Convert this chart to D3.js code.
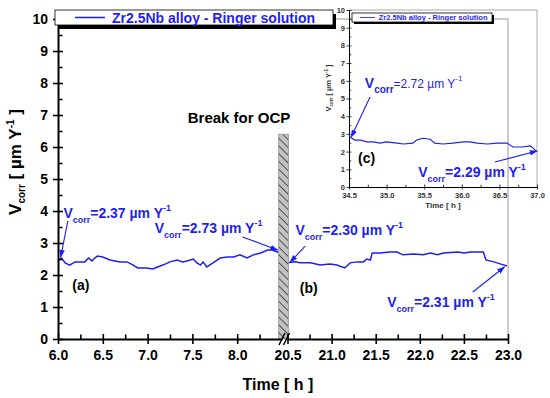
<!DOCTYPE html>
<html>
<head>
<meta charset="utf-8">
<script src="https://cdn.jsdelivr.net/npm/d3@7"></script>
<style>
body { margin: 0; background: #fff; }
text { font-family: "Liberation Sans", Arial, sans-serif; }
</style>
</head>
<body>
<svg id="chart"></svg>
<script>
const width = 550, height = 398
const blue = "#1f1ff2"

// (a) before the break for OCP
const timeA = [6.0, 6.04, 6.08, 6.13, 6.19, 6.30, 6.34, 6.38, 6.41, 6.44, 6.50, 6.58, 6.69, 6.77, 6.84, 6.89,
    6.99, 7.06, 7.11, 7.17, 7.25, 7.33, 7.39, 7.44, 7.51, 7.55, 7.59, 7.62, 7.66, 7.73, 7.81, 7.89, 7.96,
    8.03, 8.11, 8.18, 8.26, 8.34, 8.39, 8.45, 8.48]
const vcorrA = [2.45, 2.53, 2.38, 2.31, 2.41, 2.41, 2.53, 2.44, 2.53, 2.59, 2.56, 2.47, 2.41, 2.41, 2.31, 2.22,
    2.22, 2.19, 2.25, 2.31, 2.41, 2.47, 2.41, 2.44, 2.5, 2.38, 2.31, 2.41, 2.25, 2.38, 2.53, 2.56, 2.56,
    2.63, 2.53, 2.63, 2.69, 2.78, 2.78, 2.72, 2.63]

// (b) after the break
const timeB = [20.5, 20.59, 20.64, 20.76, 20.87, 20.98, 21.06, 21.15, 21.21, 21.29, 21.36, 21.4, 21.44, 21.46,
    21.55, 21.66, 21.74, 21.81, 21.93, 22.04, 22.12, 22.2, 22.27, 22.43, 22.5, 22.58, 22.72, 22.75, 22.84,
    22.92, 22.99]
const vcorrB = [2.38, 2.41, 2.38, 2.38, 2.31, 2.34, 2.31, 2.22, 2.38, 2.41, 2.41, 2.5, 2.47, 2.69,
    2.69, 2.72, 2.72, 2.63, 2.66, 2.63, 2.69, 2.63, 2.69, 2.72, 2.69, 2.72, 2.72, 2.47, 2.41,
    2.34, 2.28]

// (c) inset
const timeC = [34.51, 34.58, 34.65, 34.74, 34.82, 34.91, 35.0, 35.14, 35.22, 35.35, 35.4, 35.48, 35.58, 35.64,
    35.75, 35.88, 36.02, 36.11, 36.2, 36.34, 36.47, 36.6, 36.68, 36.81, 36.91, 36.95, 37.0]
const vcorrC = [2.82, 2.65, 2.65, 2.55, 2.55, 2.48, 2.55, 2.48, 2.43, 2.48, 2.65, 2.75, 2.7, 2.48,
    2.43, 2.48, 2.55, 2.55, 2.48, 2.43, 2.48, 2.48, 2.26, 2.26, 2.32, 2.2, 1.98]

const ticksA = [6.0, 6.5, 7.0, 7.5, 8.0]
const minorA = [6.25, 6.75, 7.25, 7.75, 8.25]
const ticksB = [20.5, 21.0, 21.5, 22.0, 22.5, 23.0]
const minorB = [20.75, 21.25, 21.75, 22.25, 22.75]
const ticksC = [34.5, 35.0, 35.5, 36.0, 36.5, 37.0]
const minorC = [34.75, 35.25, 35.75, 36.25, 36.75]
const ticksY = [0, 1, 2, 3, 4, 5, 6, 7, 8, 9, 10]
const minorY = [0.5, 1.5, 2.5, 3.5, 4.5, 5.5, 6.5, 7.5, 8.5, 9.5]

const legendText = "Zr2.5Nb alloy - Ringer solution"

// annotations: text anchor, arrow tail, arrow tip (data units of each panel)
const notes = [
    { panel: "a", value: "2.37", tx: 6.06, ty: 3.78, fx: 6.11, fy: 3.69, px: 6.03, py: 2.56 },
    { panel: "a", value: "2.73", tx: 7.08, ty: 3.31, fx: 8.06, fy: 3.19, px: 8.45, py: 2.78 },
    { panel: "b", value: "2.30", tx: 20.59, ty: 3.25, fx: 20.7, fy: 2.9, px: 20.53, py: 2.4 },
    { panel: "b", value: "2.31", tx: 21.63, ty: 1.0, fx: 22.6, fy: 1.47, px: 22.96, py: 2.25 },
    { panel: "c", value: "2.72", tx: 34.71, ty: 5.59, fx: 34.78, fy: 5.08, px: 34.53, py: 2.82, light: true },
    { panel: "c", value: "2.29", tx: 35.42, ty: 0.56, fx: 36.44, fy: 1.41, px: 37.0, py: 2.03 },
]
const panelLabels = [
    { panel: "a", label: "(a)", x: 6.16, y: 1.53 },
    { panel: "b", label: "(b)", x: 20.64, y: 1.44 },
    { panel: "c", label: "(c)", x: 34.62, y: 1.36 },
]

const svg = d3.select("svg#chart")
    .attr("width", width)
    .attr("height", height)
    .style("background", "#ffffff")

const xA = d3.scaleLinear().domain([6, 8.5]).range([58, 282])
const xB = d3.scaleLinear().domain([20.5, 23]).range([287.5, 508])
const y = d3.scaleLinear().domain([0, 10]).range([339, 19])
const xC = d3.scaleLinear().domain([34.5, 37]).range([349, 537])
const yC = d3.scaleLinear().domain([0, 10]).range([187, 10])

const scales = { a: [xA, y], b: [xB, y], c: [xC, yC] }

const defs = svg.append("defs")
defs.append("pattern")
    .attr("id", "hatch")
    .attr("patternUnits", "userSpaceOnUse")
    .attr("width", 5.5).attr("height", 5.5)
    .attr("patternTransform", "rotate(-45)")
    .call(p => p.append("rect").attr("width", 5.5).attr("height", 5.5).attr("fill", "#c2c2c2"))
    .append("line")
    .attr("x1", 0).attr("y1", 0).attr("x2", 0).attr("y2", 5.5)
    .attr("stroke", "#222").attr("stroke-width", 1.4)

defs.append("marker")
    .attr("id", "head")
    .attr("viewBox", "0 0 10 10")
    .attr("refX", 9).attr("refY", 5)
    .attr("markerUnits", "userSpaceOnUse")
    .attr("markerWidth", 8).attr("markerHeight", 8)
    .attr("orient", "auto")
    .append("path")
    .attr("d", "M0,1.5 L10,5 L0,8.5 Z")
    .attr("fill", blue)

// plot frames (grey)
svg.append("path")
    .attr("d", `M${xA(6)},${y(10)} H${xB(23)} V${y(0)}`)
    .attr("fill", "none").attr("stroke", "#999")
svg.append("path")
    .attr("d", `M${xC(34.5)},${yC(10)} H${xC(37)} V${yC(0)}`)
    .attr("fill", "none").attr("stroke", "#aaa")

// curves
const drawLine = (xs, ys, times, vals, w) => {
    const line = d3.line().x(d => xs(d[0])).y(d => ys(d[1]))
    svg.append("path")
        .datum(d3.zip(times, vals))
        .attr("d", line)
        .attr("fill", "none")
        .attr("stroke", blue)
        .attr("stroke-width", w)
}
drawLine(xA, y, timeA, vcorrA, 1.5)
drawLine(xB, y, timeB, vcorrB, 1.5)
drawLine(xC, yC, timeC, vcorrC, 1.1)

// break for OCP bar
svg.append("rect")
    .attr("x", xA(8.46))
    .attr("y", y(6.4))
    .attr("width", xB(20.5) - xA(8.46) + 1)
    .attr("height", y(0) - y(6.4))
    .attr("fill", "url(#hatch)")
    .attr("stroke", "#999")
    .attr("stroke-width", 0.8)

svg.append("text")
    .attr("x", 239)
    .attr("y", 123)
    .attr("text-anchor", "middle")
    .attr("font-size", 15).attr("font-weight", "bold")
    .text("Break for OCP")

// axes helpers
function styleAxis(g, fontSize, lineW, color) {
    g.attr("font-family", null).attr("font-size", null)
    g.select(".domain").attr("stroke-width", lineW)
    g.selectAll(".tick line").attr("stroke-width", lineW * 0.8)
    g.selectAll(".tick text")
        .attr("font-size", fontSize)
        .attr("font-weight", "bold")
        .attr("fill", color)
}

function bottomAxis(xs, ticks, minor, yPos, size, pad, fontSize, lineW, color) {
    const g = svg.append("g")
        .attr("transform", `translate(0,${yPos})`)
        .call(d3.axisBottom(xs).tickValues(ticks).tickSize(size).tickSizeOuter(0).tickPadding(pad)
            .tickFormat(d3.format(".1f")))
    g.selectAll(".tick line").attr("y1", -size)
    styleAxis(g, fontSize, lineW, color)
    const m = svg.append("g")
        .attr("transform", `translate(0,${yPos})`)
        .call(d3.axisBottom(xs).tickValues(minor).tickSize(-size * 0.9).tickFormat(""))
    m.select(".domain").remove()
    m.selectAll(".tick line").attr("stroke-width", lineW * 0.8)
}

function leftAxis(ys, ticks, minor, xPos, size, pad, fontSize, lineW, color) {
    const g = svg.append("g")
        .attr("transform", `translate(${xPos},0)`)
        .call(d3.axisLeft(ys).tickValues(ticks).tickSize(size).tickSizeOuter(0).tickPadding(pad))
    g.selectAll(".tick line").attr("x1", size)
    styleAxis(g, fontSize, lineW, color)
    const m = svg.append("g")
        .attr("transform", `translate(${xPos},0)`)
        .call(d3.axisLeft(ys).tickValues(minor).tickSize(-size * 0.9).tickFormat(""))
    m.select(".domain").remove()
    m.selectAll(".tick line").attr("stroke-width", lineW * 0.8)
}

// main axes
bottomAxis(xA, ticksA, minorA, y(0), 5, 6, 14, 2, "#000")
bottomAxis(xB, ticksB, minorB, y(0), 5, 6, 14, 2, "#000")
leftAxis(y, ticksY, minorY, xA(6), 5, 5, 14, 2, "#000")

// axis break marks
;[xA(8.5), xB(20.5) - 1].forEach(bx => {
    svg.append("line")
        .attr("x1", bx - 3).attr("y1", y(0) + 6)
        .attr("x2", bx + 3).attr("y2", y(0) - 6)
        .attr("stroke", "#000").attr("stroke-width", 1.5)
})

// inset axes
bottomAxis(xC, ticksC, minorC, yC(0), 2.5, 3, 7.5, 1, "#333")
leftAxis(yC, ticksY, minorY, xC(34.5), 2.5, 1.5, 7.5, 1, "#333")

// axis titles
function vcorrTitle(g, big, small) {
    g.append("tspan").attr("font-size", big).text("V")
    g.append("tspan").attr("font-size", small).attr("dy", big * 0.25).text("corr")
    g.append("tspan").attr("font-size", big).attr("dy", -big * 0.25).text(" [ \u00b5m Y")
    g.append("tspan").attr("font-size", small).attr("dy", -big * 0.4).text("-1")
    g.append("tspan").attr("font-size", big).attr("dy", big * 0.4).text(" ]")
}
svg.append("text")
    .attr("transform", "translate(21,162) rotate(-90)")
    .attr("text-anchor", "middle")
    .attr("font-weight", "bold")
    .call(g => vcorrTitle(g, 17, 10))
svg.append("text")
    .attr("transform", "translate(331,88) rotate(-90)")
    .attr("text-anchor", "middle")
    .attr("font-weight", "bold")
    .attr("fill", "#333")
    .call(g => vcorrTitle(g, 7.5, 4.5))

svg.append("text")
    .attr("x", 278).attr("y", 390)
    .attr("text-anchor", "middle")
    .attr("font-size", 16).attr("font-weight", "bold")
    .text("Time [ h ]")
svg.append("text")
    .attr("x", (xC(34.5) + xC(37)) / 2).attr("y", 208)
    .attr("text-anchor", "middle")
    .attr("font-size", 8).attr("font-weight", "bold")
    .attr("fill", "#333")
    .text("Time [ h ]")

// legends
function legend(x0, y0, w, h, off, lineLen, fontSize) {
    svg.append("rect")
        .attr("x", x0 + off[0]).attr("y", y0 + off[1])
        .attr("width", w).attr("height", h)
        .attr("fill", "#000")
    svg.append("rect")
        .attr("x", x0).attr("y", y0)
        .attr("width", w).attr("height", h)
        .attr("fill", "#fff").attr("stroke", "#000").attr("stroke-width", 0.8)
    svg.append("line")
        .attr("x1", x0 + lineLen[0]).attr("x2", x0 + lineLen[1])
        .attr("y1", y0 + h / 2).attr("y2", y0 + h / 2)
        .attr("stroke", blue).attr("stroke-width", fontSize / 9)
    svg.append("text")
        .attr("x", x0 + lineLen[1] + fontSize * 0.5)
        .attr("y", y0 + h / 2 + fontSize * 0.36)
        .attr("font-size", fontSize).attr("font-weight", "bold")
        .attr("fill", blue)
        .text(legendText)
}
legend(55, 10, 278, 15, [3, 4], [20, 50], 14)
legend(352, 13, 140, 9, [2, 2], [8, 23], 7.5)

// annotations
notes.forEach(n => {
    const [xs, ys] = scales[n.panel]
    svg.append("line")
        .attr("x1", xs(n.fx)).attr("y1", ys(n.fy))
        .attr("x2", xs(n.px)).attr("y2", ys(n.py))
        .attr("stroke", blue).attr("stroke-width", 1.1)
        .attr("marker-end", "url(#head)")
    const t = svg.append("text")
        .attr("x", xs(n.tx)).attr("y", ys(n.ty))
        .attr("fill", blue).attr("font-weight", "bold")
    t.append("tspan").attr("font-size", 14).text("V")
    t.append("tspan").attr("font-size", n.light ? 10 : 9).attr("dy", 5).text("corr")
    t.append("tspan").attr("font-size", n.light ? 12 : 14).attr("dy", -5)
        .attr("font-weight", n.light ? "normal" : "bold")
        .text(`=${n.value} \u00b5m Y`)
    t.append("tspan").attr("font-size", n.light ? 8 : 9).attr("dy", -7)
        .attr("font-weight", n.light ? "normal" : "bold")
        .text("-1")
})

panelLabels.forEach(p => {
    const [xs, ys] = scales[p.panel]
    svg.append("text")
        .attr("x", xs(p.x)).attr("y", ys(p.y))
        .attr("font-size", 14).attr("font-weight", "bold")
        .text(p.label)
})
</script>
</body>
</html>
